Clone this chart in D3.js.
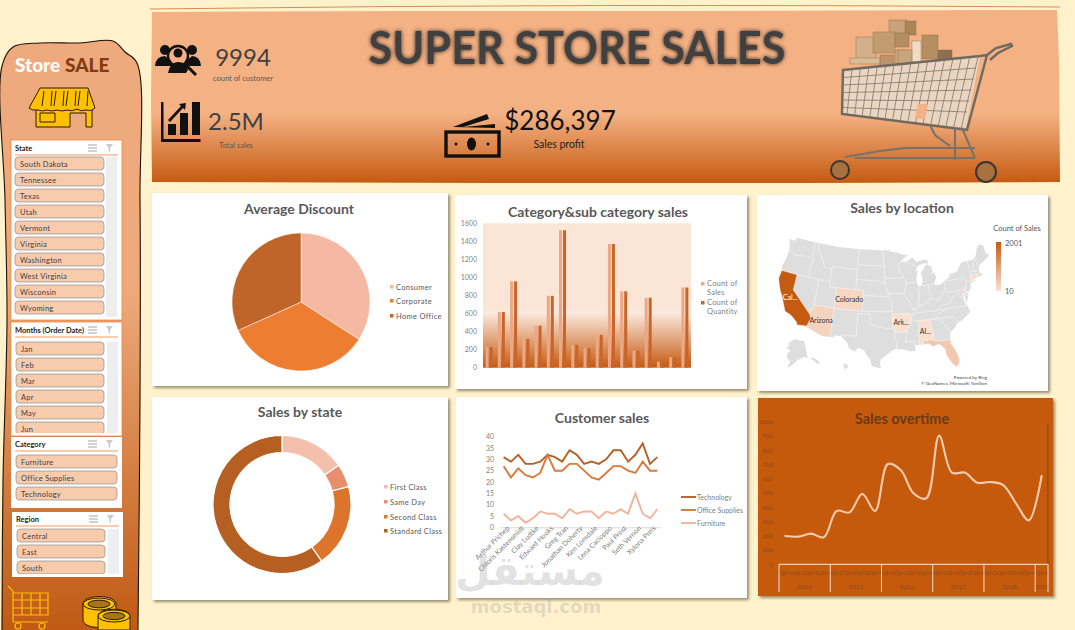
<!DOCTYPE html>
<html>
<head>
<meta charset="utf-8">
<title>Super Store Sales</title>
<script src="https://cdn.jsdelivr.net/npm/d3@7"></script>
<style>
  html, body { margin: 0; padding: 0; background: #fff2cc; overflow: hidden; }
  svg { display: block; }
  text { font-family: Lato, "Open Sans", sans-serif; }
</style>
</head>
<body>
<svg id="chart" width="1075" height="630"></svg>
<script>
// ---- data ----
var states = ["South Dakota", "Tennessee", "Texas", "Utah", "Vermont", "Virginia", "Washington", "West Virginia", "Wisconsin", "Wyoming"];
var months = ["Jan", "Feb", "Mar", "Apr", "May", "Jun"];
var categories = ["Furniture", "Office Supplies", "Technology"];
var regions = ["Central", "East", "South"];

var segments = ["Consumer", "Corporate", "Home Office"];
var avgDiscount = [0.158, 0.158, 0.147];

var subCategories = ["Bookcases", "Chairs", "Furnishings", "Tables", "Appliances", "Art", "Binders", "Envelopes", "Fasteners", "Labels", "Paper", "Storage", "Supplies", "Accessories", "Copiers", "Machines", "Phones"];
var countOfSales = [228, 617, 957, 319, 466, 796, 1523, 254, 217, 364, 1370, 846, 190, 775, 68, 115, 889];
var countOfQuantity = [228, 617, 957, 319, 466, 796, 1523, 254, 217, 364, 1370, 846, 190, 775, 68, 115, 889];
var barSeries = ["Count of Sales", "Count of Quantity"];

var shipModes = ["First Class", "Same Day", "Second Class", "Standard Class"];
var shipCounts = [1538, 543, 1945, 5968];

var customers = ["Arthur Prichep", "a2", "Chloris Kastensmidt", "a4", "Clay Ludtke", "a6", "Edward Hooks", "a8", "Greg Tran", "a10", "Jonathan Doherty", "a12", "Ken Lonsdale", "a14", "Lena Cacioppo", "a16", "Paul Prost", "a18", "Seth Vernon", "a20", "Xylona Preis", "a22"];
var techSales = [31, 29, 32, 28, 28, 29, 32, 31, 29, 34, 32, 28, 29, 28, 30, 34, 34, 29, 32, 37, 28, 31];
var officeSales = [27, 22, 26, 23, 22, 24, 32, 25, 25, 28, 28, 25, 22, 21, 24, 27, 27, 25, 24, 29, 25, 25];
var furnitureSales = [6, 3, 5, 2, 4, 7, 6, 6, 4, 8, 6, 7, 7, 4, 7, 6, 8, 6, 15, 6, 4, 8];

var quarters = ["Qtr1", "Qtr2", "Qtr3", "Qtr4"];
var years = ["2014", "2015", "2016", "2017", "2018", "2019"];
var quarterSales = [199, 194, 215, 190, 374, 364, 493, 374, 703, 661, 498, 463, 902, 643, 643, 572, 577, 556, 428, 308, 619];

// states that have a value on the map: [lon, lat] rings
var stateNames = ["California", "Arizona", "Colorado", "Arkansas", "Alabama", "Florida", "Connecticut", "Delaware"];
var stateSales = [2001, 224, 182, 60, 61, 383, 82, 96];
var stateRings = [
  [[-124.2,42],[-120,42],[-120,39],[-114.6,35],[-114.15,34.3],[-114.5,33.5],[-114.72,32.72],[-117.12,32.53],[-117.3,33],[-118.4,33.75],[-119.2,34.15],[-120.6,34.55],[-121.9,36.6],[-122.5,37.5],[-123,38],[-123.8,39.3],[-124.4,40.4],[-124.2,42]],
  [[-114.04,37],[-109.05,37],[-109.05,31.33],[-111.07,31.33],[-114.8,32.5],[-114.72,32.72],[-114.5,33.5],[-114.15,34.3],[-114.6,35],[-114.7,36],[-114.04,36.2],[-114.04,37]],
  [[-109.05,41],[-105.5,41],[-102.05,41],[-102.05,37],[-105.5,37],[-109.05,37],[-109.05,41]],
  [[-94.62,36.5],[-90.15,36.5],[-90.37,36],[-89.7,36],[-90.1,35],[-91.15,33],[-94.05,33],[-94.05,33.55],[-94.48,33.65],[-94.45,35.4],[-94.62,36.5]],
  [[-88.2,35],[-85.6,35],[-85,32.3],[-85,31],[-87.6,31],[-87.5,30.28],[-88.1,30.3],[-88.4,30.3],[-88.2,35]],
  [[-87.6,31],[-85,31],[-84.9,30.7],[-82.2,30.55],[-81.4,30.7],[-81.3,29.8],[-80.55,28.4],[-80.05,26.8],[-80.2,25.7],[-80.9,25.15],[-81.8,26.1],[-82.7,27.8],[-82.7,28.8],[-83.7,29.9],[-84.2,30.05],[-85.3,29.7],[-86.4,30.4],[-87.5,30.28],[-87.6,31]],
  [[-73.5,42.05],[-71.8,42.02],[-71.85,41.32],[-72.9,41.25],[-73.7,41],[-73.5,42.05]],
  [[-75.8,39.72],[-75.5,39.8],[-75.05,38.45],[-75.7,38.45],[-75.8,39.72]]
];
var mapLabels = ["Cal...", "Arizona", "Colorado", "Ark...", "Al..."];

var usOutline = [[-124.7,48.4],[-123,48.3],[-122.8,49],[-116,49],[-110,49],[-104,49],[-98,49],[-95.15,49],[-95.15,49.38],[-94.6,48.7],[-93,48.6],[-91.4,48.1],[-89.6,48],[-92.1,46.75],[-90.5,46.6],[-88.4,47.4],[-87.5,46.5],[-85,46.75],[-84.4,46.5],[-84,46],[-84.7,45.95],[-85.5,46],[-87,45.7],[-87.6,45.1],[-88,44.55],[-87.3,44.9],[-87.5,44.3],[-87.9,43],[-87.8,42.3],[-87.5,41.7],[-86.9,41.7],[-86.3,42.4],[-86.3,43.2],[-86.5,44],[-86.2,44.7],[-85.6,45],[-85,45.7],[-84.7,45.78],[-83.4,45.2],[-83.3,44.3],[-83.9,43.7],[-83,44.05],[-82.45,43],[-82.9,42.4],[-83.15,42],[-83.45,41.72],[-82.7,41.5],[-81.7,41.5],[-80.5,42],[-79,42.7],[-78.9,43],[-79.05,43.27],[-77.5,43.27],[-76.5,43.5],[-76.2,44],[-75,44.95],[-74.7,45],[-71.5,45],[-71.3,45.3],[-70.8,45.4],[-70.3,46.2],[-70,46.7],[-69.2,47.45],[-68.3,47.35],[-67.8,47.05],[-67.8,45.7],[-67,44.85],[-68.5,44.3],[-70,43.8],[-70.7,43.05],[-70.8,42.6],[-71,42.3],[-70.6,41.95],[-70,41.8],[-70.6,41.55],[-71.4,41.45],[-72.9,41.25],[-73.7,40.95],[-72,41.05],[-73.9,40.55],[-74,40.45],[-74.1,39.7],[-74.9,38.95],[-75.5,39.5],[-75.05,38.45],[-75.9,37.15],[-76.1,38.9],[-76.4,39.2],[-76.4,38],[-76.3,36.95],[-75.9,36.6],[-75.5,35.25],[-76.5,34.65],[-77.9,33.9],[-78.9,33.65],[-79.9,32.7],[-81,32],[-81.4,30.7],[-81.3,29.8],[-80.55,28.4],[-80.05,26.8],[-80.2,25.7],[-80.9,25.15],[-81.8,26.1],[-82.7,27.8],[-82.7,28.8],[-83.7,29.9],[-84.2,30.05],[-85.3,29.7],[-86.4,30.4],[-87.5,30.28],[-88.1,30.3],[-89.5,30.3],[-89.4,29.2],[-90.5,29.1],[-91.8,29.5],[-93.8,29.7],[-94.7,29.4],[-95.9,28.6],[-97.2,27.7],[-97.4,26.9],[-97.15,25.95],[-98.2,26.05],[-99.2,26.4],[-99.5,27.5],[-100.3,28.3],[-101,29.4],[-102.4,29.8],[-103.1,28.98],[-104.5,29.6],[-105,30.65],[-106.5,31.75],[-108.2,31.78],[-108.2,31.33],[-111.07,31.33],[-114.8,32.5],[-117.12,32.53],[-117.3,33],[-118.4,33.75],[-119.2,34.15],[-120.6,34.55],[-121.9,36.6],[-122.5,37.5],[-123,38],[-123.8,39.3],[-124.4,40.4],[-124.2,41.99],[-124.5,42.8],[-124,44.6],[-123.95,46.2],[-124.1,46.9],[-124.7,48.4]];
var alaska = [[-168,65.6],[-164,67],[-166,68.5],[-160,70.5],[-156.5,71.3],[-150,70.5],[-141,69.6],[-141,60.3],[-137,58.9],[-133,55.5],[-130,55],[-131,57],[-135,59.3],[-139,59.8],[-146,60.8],[-149,60],[-151.5,59.3],[-151,61],[-154,58.5],[-158,56.5],[-163,54.8],[-160.5,58.6],[-165,60.5],[-165,63],[-161,64.5],[-168,65.6]];
var hawaii = [[-156,20.2],[-155.1,19.9],[-155,19.5],[-155.7,18.95],[-155.95,19.6],[-156,20.2]];
var stateBorders = [
  [[-124,46.25],[-123,46.15],[-122,45.6],[-119,45.9],[-116.9,46]], [[-117.04,49],[-117.04,46.4]], [[-116.9,46],[-116.5,45.5],[-117,44.2],[-117.03,42]],
  [[-124.2,42],[-120,42],[-114.04,42],[-111.05,42]], [[-120,42],[-120,39],[-114.6,35]], [[-114.04,42],[-114.04,37],[-114.04,36.2],[-114.7,36],[-114.6,35]],
  [[-114.04,37],[-109.05,37],[-105,37],[-102.04,37],[-98,37],[-94.62,37]], [[-109.05,41],[-109.05,37],[-109.05,31.33]],
  [[-116.05,49],[-116.05,48],[-114.5,46.6],[-113.9,45.6],[-113,44.5],[-111.05,44.5]], [[-111.05,45],[-111.05,41],[-109.05,41],[-105,41],[-102.05,41]],
  [[-111.05,45],[-107,45],[-104.05,45]], [[-104.05,49],[-104.05,41]], [[-104.05,45.94],[-100,45.94],[-96.56,45.94]], [[-104.05,43],[-98.5,43],[-96.5,42.5]],
  [[-102.05,40],[-98,40],[-95.3,40]], [[-102.05,41],[-102.05,37]], [[-103.04,37],[-103.04,32],[-106.6,32],[-106.5,31.75]], [[-103,36.5],[-100,36.5],[-100,34.56],[-97,33.85],[-94.5,33.65]],
  [[-94.05,33.55],[-94.05,31.9],[-93.5,31],[-93.8,29.7]], [[-94.05,33.02],[-91.15,33]], [[-94.62,36.5],[-94.45,35.4],[-94.48,33.65],[-94.05,33.55]], [[-94.62,36.5],[-90.15,36.5],[-90.37,36],[-89.7,36]],
  [[-94.62,37],[-94.62,39.1],[-95.3,40],[-96.5,42.5]], [[-95.8,40.58],[-91.45,40.4]], [[-96.45,43.5],[-91.22,43.5]], [[-96.56,45.94],[-96.45,43.5],[-96.5,42.5]], [[-96.56,45.94],[-97.2,49]],
  [[-92.1,46.7],[-92.8,45.5],[-91.22,43.5],[-90.65,42.5],[-91.45,40.4],[-90.2,38.8],[-89.15,37]], [[-90.65,42.5],[-87.8,42.5]], [[-87.53,41.7],[-87.53,39.3],[-88.05,37.8]], [[-84.8,41.7],[-84.8,39.1]],
  [[-87,41.76],[-84.8,41.7],[-83.45,41.72]], [[-89.15,37],[-88.05,37.8],[-86.5,38],[-84.8,39.1],[-83,38.7],[-82.6,38.4],[-80.6,40.6],[-80.52,42]],
  [[-89.5,36.5],[-83.7,36.6],[-81.7,36.6],[-75.9,36.55]], [[-89.5,36.5],[-90.1,35],[-91.15,33],[-91.6,31],[-89.7,31],[-89.6,30.2]], [[-90.1,35],[-85.6,35],[-84.3,35],[-83.1,35]],
  [[-88.2,35],[-88.4,30.3]], [[-85.6,35],[-85,32.3],[-85,31],[-84.9,30.7]], [[-87.6,31],[-85,31]], [[-84.9,30.7],[-82.2,30.55],[-81.4,30.7]], [[-87.6,31],[-87.5,30.3]],
  [[-83.1,35],[-81,32]], [[-83.1,35],[-81,35.1],[-79.7,34.8],[-78.6,33.85]], [[-84.3,35],[-81.7,36.6]], [[-83.7,36.6],[-82,37.5],[-80.3,37.5],[-78.4,39.2],[-77.7,39.3],[-76.9,38.3],[-76.3,38]],
  [[-80.52,39.72],[-75.8,39.72]], [[-80.52,40.6],[-80.52,39.72]], [[-79.76,42.25],[-79.76,42],[-75.35,42],[-74.7,41.35],[-75.1,40.9],[-75.5,39.8]], [[-74.7,41.35],[-73.9,41]],
  [[-75.8,39.72],[-75.7,38.45]], [[-73.35,45],[-73.25,42.75],[-73.5,41.3],[-73.7,41]], [[-73.25,42.75],[-71.3,42.7],[-70.8,42.85]], [[-73.5,42.05],[-71.4,42.02],[-71.8,41.4]],
  [[-71.5,45],[-72.4,43],[-72.45,42.73]], [[-71.05,45.3],[-70.75,43.1]], [[-90.4,46.55],[-88.1,45.9],[-87.6,45.1]]
];

// ---- page set up ----
var svg = d3.select("#chart");
var defs = svg.append("defs");
var cream = "#fff2cc", peach = "#f4b183", rust = "#c55a11", grey = "#595959", soft = "#7f7f7f";

function vGradient(id, stops) {
  var g = defs.append("linearGradient").attr("id", id).attr("x1", 0).attr("x2", 0).attr("y1", 0).attr("y2", 1);
  stops.forEach(function(s) { g.append("stop").attr("offset", s[0]).attr("stop-color", s[1]); });
}
vGradient("headGrad", [[0, peach], [0.6, peach], [1, rust]]);
vGradient("sideGrad", [[0, "#eeaa7c"], [0.42, "#eeaa7c"], [1, "#c05a14"]]);
vGradient("barGrad", [[0, "#fbe5d6"], [0.58, "#fbe5d6"], [0.62, "#fbe9dd"], [1, rust]]);
vGradient("legGrad", [[0, rust], [1, "#fbe3d3"]]);

var shadow = defs.append("filter").attr("id", "cardShadow").attr("x", "-5%").attr("y", "-5%").attr("width", "112%").attr("height", "112%");
shadow.append("feDropShadow").attr("dx", 2).attr("dy", 2).attr("stdDeviation", 1.4).attr("flood-color", "#6f6b50").attr("flood-opacity", 0.75);
var blur = defs.append("filter").attr("id", "titleShadow").attr("x", "-5%").attr("y", "-20%").attr("width", "110%").attr("height", "140%");
blur.append("feDropShadow").attr("dx", 0).attr("dy", 0).attr("stdDeviation", 2.2).attr("flood-color", "#000").attr("flood-opacity", 0.8);

function label(g, x, y, txt, size, color, anchor, weight) {
  return g.append("text").attr("x", x).attr("y", y).text(txt)
    .attr("font-size", size).attr("fill", color)
    .attr("text-anchor", anchor || "start").attr("font-weight", weight || "normal");
}
function card(x0, y0, x1, y1, fill) {
  svg.append("rect").attr("x", x0).attr("y", y0).attr("width", x1 - x0).attr("height", y1 - y0)
    .attr("fill", fill || "#fff").attr("filter", "url(#cardShadow)");
}

// ---- sidebar ----
var blob = d3.line().x(function(d) { return d[0]; }).y(function(d) { return d[1]; }).curve(d3.curveCatmullRom);
var sidePath = [[2, 630], [3, 480], [7, 320], [5, 200], [2, 66], [13, 47], [40, 43], [80, 43], [113, 41], [125, 52], [137, 63], [140, 200], [140, 400], [138, 630]];
svg.append("path").attr("d", blob(sidePath)).attr("fill", "url(#sideGrad)").attr("stroke", "#1a1208").attr("stroke-width", 1.1);

var brand = label(svg, 15, 72, "Store", 19, "#fff", "start", 900);
brand.append("tspan").attr("dx", 5).attr("fill", "#843c0c").text("SALE");

// shop icon
var shop = svg.append("g").attr("stroke", "#2b1d05").attr("stroke-width", 1).attr("fill", "#ffc000").attr("stroke-linejoin", "round");
shop.append("path").attr("d", "M36 109 H92 V127 H86 V113 H70 V127 H36 Z");
shop.append("path").attr("d", "M40 88 H88 L95 108 Q91 112 86 110 Q81 112 77 109 Q72 112 67 110 Q62 112 57 110 Q52 112 47 110 Q42 112 38 110 Q32 111 29 108 Z");
[43, 55, 67, 79].forEach(function(x) {
  shop.append("path").attr("fill", "#fff").attr("fill-opacity", 0).attr("d", "M" + (x + 1) + " 91 L" + (x - 1) + " 106 M" + (x + 9) + " 91 L" + (x + 8) + " 106");
});
shop.append("rect").attr("x", 40).attr("y", 113).attr("width", 15).attr("height", 9);

function slicer(o) {
  var g = svg.append("g");
  g.append("rect").attr("x", o.x0).attr("y", o.y0).attr("width", o.x1 - o.x0).attr("height", o.y1 - o.y0)
    .attr("fill", "#fff").attr("stroke", o.border ? "#ed7d31" : "none").attr("stroke-width", 0.7);
  label(g, o.x0 + 4, o.head, o.title, 7.5, "#222", "start", "bold");
  g.append("line").attr("x1", o.x0 + 4).attr("x2", o.x1 - 4).attr("y1", o.head + 4).attr("y2", o.head + 4).attr("stroke", "#ed7d31").attr("stroke-width", 0.8);
  // little select / clear icons
  [0, 3, 6].forEach(function(dy) {
    g.append("line").attr("x1", o.x1 - 34).attr("x2", o.x1 - 25).attr("y1", o.head - 6 + dy).attr("y2", o.head - 6 + dy).attr("stroke", "#9a9a9a").attr("stroke-width", 0.9);
  });
  g.append("path").attr("d", "M" + (o.x1 - 16) + " " + (o.head - 7) + " h7 l-3 4 v4 l-1.5 -1 v-3 Z").attr("fill", "#c9c9c9");
  if (o.track) {
    g.append("rect").attr("x", o.trackX).attr("y", o.top).attr("width", 11).attr("height", o.y1 - o.top - 3).attr("fill", "#eeeef0");
  }
  var id = "clip" + o.title.charAt(0);
  defs.append("clipPath").attr("id", id).append("rect").attr("x", o.x0).attr("y", o.top - 1).attr("width", o.x1 - o.x0).attr("height", o.clipTo - o.top + 1);
  var items = g.append("g").attr("clip-path", "url(#" + id + ")").selectAll("g").data(o.items).enter().append("g");
  items.append("rect").attr("x", o.bx).attr("width", o.bw).attr("height", 13).attr("rx", 3.5)
    .attr("y", function(d, i) { return o.top + i * 16; })
    .attr("fill", "#f8cbad").attr("stroke", "#8e8e8e").attr("stroke-width", 0.7);
  items.append("text").attr("x", o.bx + 5).attr("y", function(d, i) { return o.top + i * 16 + 9.5; })
    .attr("font-size", 7.5).attr("fill", "#404040").attr("letter-spacing", 0.25).text(function(d) { return d; });
}
slicer({ title: "State", items: states, x0: 11, x1: 122, y0: 140, y1: 320, head: 151, top: 157, clipTo: 318, bx: 15, bw: 89, track: true, trackX: 106, border: true });
slicer({ title: "Months (Order Date)", items: months, x0: 11, x1: 122, y0: 322, y1: 436, head: 333, top: 342, clipTo: 433, bx: 16, bw: 88, track: true, trackX: 107, border: true });
slicer({ title: "Category", items: categories, x0: 11, x1: 122, y0: 437, y1: 508, head: 447, top: 455, clipTo: 506, bx: 16, bw: 101, track: false });
slicer({ title: "Region", items: regions, x0: 12, x1: 123, y0: 512, y1: 577, head: 522, top: 529, clipTo: 574, bx: 17, bw: 88, track: true, trackX: 108 });

// cart and coins at the foot of the sidebar
var footCart = svg.append("g").attr("fill", "none").attr("stroke", "#ffc000").attr("stroke-width", 1.2);
footCart.append("path").attr("d", "M8 586 L13 591 L13 622 H48 M13 593 H48 V615 H13 M13 600 H48 M13 608 H48 M22 593 V615 M31 593 V615 M40 593 V615");
footCart.append("circle").attr("cx", 18).attr("cy", 626).attr("r", 3);
footCart.append("circle").attr("cx", 42).attr("cy", 626).attr("r", 3);
var coins = svg.append("g").attr("fill", "#ffc000").attr("stroke", "#2b1d05").attr("stroke-width", 1);
coins.append("path").attr("d", "M83 604 C83 594 116 594 116 604 V620 C116 630 83 630 83 620 Z");
coins.append("ellipse").attr("cx", 99).attr("cy", 604).attr("rx", 16).attr("ry", 6);
coins.append("ellipse").attr("cx", 99).attr("cy", 604).attr("rx", 11).attr("ry", 3.8).attr("fill", "#a8741a");
coins.append("path").attr("d", "M98 616 C98 607 130 607 130 616 V630 H98 Z");
coins.append("ellipse").attr("cx", 114).attr("cy", 616).attr("rx", 16).attr("ry", 6);
coins.append("ellipse").attr("cx", 114).attr("cy", 616).attr("rx", 11).attr("ry", 3.6).attr("fill", "#a8741a");

// ---- header band ----
svg.append("path").attr("d", "M150 9 Q600 3 1060 7").attr("fill", "none").attr("stroke", "#d98c4d").attr("stroke-width", 1);
var headPath = [[152, 12], [400, 11], [700, 11], [1057, 10], [1059, 60], [1060, 182], [800, 183], [500, 183], [152, 182], [151, 100], [152, 12]];
svg.append("path").attr("d", d3.line().x(function(d) { return d[0]; }).y(function(d) { return d[1]; })(headPath)).attr("fill", "url(#headGrad)");

label(svg, 577, 64, "SUPER STORE SALES", 46, "#404040", "middle", "bold")
  .attr("textLength", 417).attr("lengthAdjust", "spacingAndGlyphs").attr("filter", "url(#titleShadow)");
label(svg, 243, 66, "9994", 24, "#404040", "middle");
label(svg, 243, 81, "count of customer", 7.5, "#595959", "middle");
label(svg, 236, 130, "2.5M", 24, "#404040", "middle");
label(svg, 236, 148, "Total sales", 7.5, "#595959", "middle");
label(svg, 560, 130, "$286,397", 26, "#111", "middle");
label(svg, 559, 148, "Sales profit", 10.5, "#222", "middle");

// people icon
var people = svg.append("g").attr("fill", "#111");
people.append("circle").attr("cx", 165).attr("cy", 50).attr("r", 5);
people.append("circle").attr("cx", 192).attr("cy", 50).attr("r", 5);
people.append("path").attr("d", "M155 66 Q156 56 165 56 L172 62 V66 Z M201 66 Q200 56 192 56 L185 62 V66 Z");
people.append("circle").attr("cx", 178).attr("cy", 56).attr("r", 10).attr("fill", "none").attr("stroke", "#111").attr("stroke-width", 2.4);
people.append("circle").attr("cx", 178).attr("cy", 53).attr("r", 4.5);
people.append("path").attr("d", "M168 73 Q170 62 178 62 Q186 62 188 70 L186 73 Z");
people.append("line").attr("x1", 186).attr("y1", 65).attr("x2", 196).attr("y2", 75).attr("stroke", "#111").attr("stroke-width", 3);

// growth icon
var growth = svg.append("g").attr("fill", "#111");
growth.append("path").attr("d", "M161 102 H163.5 V139 H200.5 V142 H161 Z");
growth.append("rect").attr("x", 168).attr("y", 124).attr("width", 8).attr("height", 11);
growth.append("rect").attr("x", 180).attr("y", 113).attr("width", 8).attr("height", 22);
growth.append("rect").attr("x", 192).attr("y", 102).attr("width", 8).attr("height", 33);
growth.append("path").attr("d", "M168 120 L181 106 L179 104 L186 103 L185 110 L183 108 L170 122 Z");

// money icon
var money = svg.append("g").attr("fill", "#111");
money.append("path").attr("d", "M453 127 L487 114 L489 119 L463 127 L495 124 L495 128 Z");
money.append("rect").attr("x", 446).attr("y", 132).attr("width", 53).attr("height", 24).attr("fill", "none").attr("stroke", "#111").attr("stroke-width", 3.4);
money.append("ellipse").attr("cx", 471.5).attr("cy", 144).attr("rx", 4.5).attr("ry", 6.5);
money.append("circle").attr("cx", 456).attr("cy", 144).attr("r", 1.5);
money.append("circle").attr("cx", 488).attr("cy", 144).attr("r", 1.5);

// shopping cart picture
var cart = svg.append("g");
var boxes = [[889, 20, 18, 16, "#c7a27a"], [905, 21, 11, 14, "#a98458"], [856, 37, 20, 22, "#d3b08b"], [873, 32, 22, 21, "#c39b70"], [895, 33, 14, 14, "#b38d63"], [922, 35, 16, 24, "#b78e62"], [912, 41, 9, 21, "#f0dcc4"], [938, 50, 14, 10, "#8f6f50"], [895, 50, 13, 13, "#caa882"], [850, 58, 30, 6, "#d9bb97"], [880, 55, 14, 13, "#bb9369"], [898, 50, 14, 15, "#c9a57e"]];
cart.selectAll("rect").data(boxes).enter().append("rect")
  .attr("x", function(d) { return d[0]; }).attr("y", function(d) { return d[1]; })
  .attr("width", function(d) { return d[2]; }).attr("height", function(d) { return d[3]; })
  .attr("fill", function(d) { return d[4]; }).attr("stroke", "#8a6a48").attr("stroke-width", 0.4);
cart.append("path").attr("d", "M843 70 L980 56 L966 128 L842 113 Z").attr("fill", "#e9dccd").attr("fill-opacity", 0.85);
cart.append("path").attr("d", "M843 70 L980 56 L987 55 L967 130 L842 114 Z M987 55 L996 48 L1011 44 L1012 46 L998 53 L990 60")
  .attr("fill", "none").attr("stroke", "#6f6a60").attr("stroke-width", 2.4);
var basketWires = cart.append("g").attr("stroke", "#7b766c").attr("stroke-width", 0.8);
d3.range(0, 16).forEach(function(i) {
  basketWires.append("line").attr("x1", 852 + i * 8.4).attr("y1", 69 - i * 0.8).attr("x2", 847 + i * 7.6).attr("y2", 114 + i * 1.0);
});
d3.range(1, 6).forEach(function(i) {
  basketWires.append("line").attr("x1", 843).attr("y1", 70 + i * 7.5).attr("x2", 978 - i * 2.2).attr("y2", 57 + i * 11);
});
cart.append("rect").attr("x", 918).attr("y", 104).attr("width", 10).attr("height", 15).attr("fill", peach).attr("transform", "skewX(-12) translate(22,0)");
cart.append("path").attr("d", "M930 125 L935 135 L950 146 M955 128 V160 M962 128 L975 158 M845 157 L880 151 L905 148 H975 M855 158 H975")
  .attr("fill", "none").attr("stroke", "#77726a").attr("stroke-width", 2);
[[840, 170, 9], [986, 172, 10]].forEach(function(w) {
  cart.append("circle").attr("cx", w[0]).attr("cy", w[1]).attr("r", w[2]).attr("fill", "#a8713f").attr("stroke", "#3a3530").attr("stroke-width", 2);
});

// ---- cards ----
card(152, 193, 448, 386);
card(455, 195, 747, 389);
card(757, 195, 1048, 391);
card(152, 397, 448, 600);
card(456, 397, 747, 598);
card(758, 398, 1053, 596, rust);

function swatchLegend(g, names, colors, x, ys, size) {
  names.forEach(function(n, i) {
    g.append("rect").attr("x", x).attr("y", ys[i] - 3).attr("width", 3.5).attr("height", 3.5).attr("fill", colors[i]);
    label(g, x + 6, ys[i] + 1.5, n, size, grey).attr("letter-spacing", 0.3);
  });
}

// average discount pie
var pieColors = ["#f5b9a3", "#ed7d31", "#c0652a"];
label(svg, 299, 214, "Average Discount", 14, grey, "middle", "bold");
var pieG = svg.append("g").attr("transform", "translate(301,302)");
var pieArc = d3.arc().innerRadius(0).outerRadius(69);
pieG.selectAll("path").data(d3.pie().sort(null)(avgDiscount)).enter().append("path")
  .attr("d", pieArc).attr("fill", function(d, i) { return pieColors[i]; })
  .attr("stroke", "#fff").attr("stroke-width", 0.5);
swatchLegend(svg, segments, pieColors, 390, [288, 302, 317], 7.5);

// category bars
label(svg, 598, 217, "Category&sub category sales", 14, grey, "middle", "bold");
var barX = d3.scaleBand().domain(subCategories).range([483, 691]);
var barY = d3.scaleLinear().domain([0, 1600]).range([367.7, 223.3]);
svg.append("rect").attr("x", 483).attr("y", 223.3).attr("width", 208).attr("height", 144.4).attr("fill", "url(#barGrad)");
var barG = svg.append("g");
var barW = 3;
barG.selectAll(".sales").data(countOfSales).enter().append("rect")
  .attr("x", function(d, i) { return barX(subCategories[i]) + barX.bandwidth() / 2 - barW - 0.5; })
  .attr("y", function(d) { return barY(d); }).attr("width", barW)
  .attr("height", function(d) { return barY(0) - barY(d); }).attr("fill", "#eca784");
barG.selectAll(".qty").data(countOfQuantity).enter().append("rect")
  .attr("x", function(d, i) { return barX(subCategories[i]) + barX.bandwidth() / 2 + 0.5; })
  .attr("y", function(d) { return barY(d); }).attr("width", barW)
  .attr("height", function(d) { return barY(0) - barY(d); }).attr("fill", "#c9642a");
var barAxis = svg.append("g").attr("transform", "translate(483,0)")
  .call(d3.axisLeft(barY).tickValues(d3.range(0, 1601, 200)).tickFormat(d3.format("d")).tickSize(0).tickPadding(6));
barAxis.select(".domain").remove();
barAxis.selectAll("text").attr("font-size", 7).attr("fill", soft).attr("font-family", "Lato");
var barColors = ["#eca784", "#c9642a"];
[["Count of", "Sales"], ["Count of", "Quantity"]].forEach(function(lines, i) {
  var y = [284, 303][i];
  svg.append("rect").attr("x", 701).attr("y", y - 2).attr("width", 3.5).attr("height", 3.5).attr("fill", barColors[i]);
  label(svg, 707, y + 2, lines[0], 7.5, soft).attr("letter-spacing", 0.2);
  label(svg, 707, y + 11, lines[1], 7.5, soft).attr("letter-spacing", 0.2);
});

// sales by location map
label(svg, 902, 213, "Sales by location", 14, grey, "middle", "bold");
var projection = d3.geoAlbersUsa().scale(292).translate([884, 303]);
var geoPath = d3.geoPath(projection);
var mapG = svg.append("g");
function ringFeature(ring) { return { type: "Polygon", coordinates: [ring] }; }
[usOutline, alaska, hawaii].forEach(function(r) {
  mapG.append("path").attr("d", geoPath(ringFeature(r))).attr("fill", "#dedede");
});
mapG.append("path").attr("d", geoPath({ type: "MultiLineString", coordinates: stateBorders }))
  .attr("fill", "none").attr("stroke", "#f5f5f5").attr("stroke-width", 0.7);
var mapColor = d3.scaleLinear().domain([10, 2001]).range(["#fbe3d3", rust]);
mapG.selectAll(".state").data(stateRings).enter().append("path")
  .attr("d", function(d) { return geoPath(ringFeature(d)); })
  .attr("fill", function(d, i) { return mapColor(stateSales[i]); })
  .attr("stroke", "#f5f5f5").attr("stroke-width", 0.4);
var labelSpots = [[-120.2, 37.3], [-111.7, 34.3], [-105.5, 39], [-92.4, 34.8], [-86.8, 32.8]];
mapLabels.forEach(function(n, i) {
  var p = projection(labelSpots[i]);
  label(svg, p[0], p[1] + 2.5, n, 7, i === 0 ? "#fff" : "#333", "middle");
});
label(svg, 1017, 231, "Count of Sales", 7.5, grey, "middle");
svg.append("rect").attr("x", 996).attr("y", 242).attr("width", 5).attr("height", 49).attr("fill", "url(#legGrad)");
label(svg, 1005, 246, d3.max(stateSales), 7.5, grey);
label(svg, 1005, 294, "10", 7.5, grey);
label(svg, 987, 379, "Powered by Bing", 4.5, "#444", "end");
label(svg, 987, 385, "\u00a9 GeoNames, Microsoft, TomTom", 4.5, "#444", "end");

// shipping donut
label(svg, 300, 417, "Sales by state", 14, grey, "middle", "bold");
var donutColors = ["#f4c0ad", "#e98e6c", "#dd742c", "#b65f22"];
var donutG = svg.append("g").attr("transform", "translate(282,504.5)");
var donutArc = d3.arc().innerRadius(52).outerRadius(69);
donutG.selectAll("path").data(d3.pie().sort(null)(shipCounts)).enter().append("path")
  .attr("d", donutArc).attr("fill", function(d, i) { return donutColors[i]; })
  .attr("stroke", "#fff").attr("stroke-width", 1.2);
swatchLegend(svg, shipModes, donutColors, 384, [488, 503, 518, 532], 7.5);

// customer lines
label(svg, 602, 423, "Customer sales", 14, grey, "middle", "bold");
var lineX = d3.scaleBand().domain(customers).range([500, 661]);
var lineY = d3.scaleLinear().domain([0, 40]).range([527.3, 436.7]);
var lineAxisX = svg.append("g").attr("transform", "translate(0,527.3)")
  .call(d3.axisBottom(lineX).tickValues(customers.filter(function(d, i) { return i % 2 === 0; })).tickSize(0).tickPadding(4));
lineAxisX.select(".domain").attr("stroke", "#d9d9d9");
lineAxisX.selectAll("text").attr("font-size", 7).attr("fill", soft).attr("font-family", "Lato")
  .attr("text-anchor", "end").attr("dx", "0.5em").attr("dy", "0.2em").attr("transform", "rotate(-45)");
var lineAxisY = svg.append("g").attr("transform", "translate(500,0)")
  .call(d3.axisLeft(lineY).tickValues(d3.range(0, 41, 5)).tickSize(0).tickPadding(6));
lineAxisY.select(".domain").remove();
lineAxisY.selectAll("text").attr("font-size", 7).attr("fill", soft).attr("font-family", "Lato");
var lineFn = d3.line().x(function(d, i) { return lineX(customers[i]) + lineX.bandwidth() / 2; }).y(function(d) { return lineY(d); });
var lineSeries = ["Technology", "Office Supplies", "Furniture"];
var lineColors = ["#b5622a", "#d9793a", "#f0b49a"];
[techSales, officeSales, furnitureSales].forEach(function(vals, i) {
  svg.append("path").attr("d", lineFn(vals)).attr("fill", "none").attr("stroke", lineColors[i]).attr("stroke-width", 1.9);
});
lineSeries.forEach(function(n, i) {
  var y = [497, 510, 523][i];
  svg.append("line").attr("x1", 681).attr("x2", 696).attr("y1", y).attr("y2", y).attr("stroke", lineColors[i]).attr("stroke-width", 1.9);
  label(svg, 697, y + 2.5, n, 7, soft);
});

// sales over time
svg.append("rect").attr("x", 1047).attr("y", 424).attr("width", 1.6).attr("height", 140).attr("fill", "#a04c10");
label(svg, 902, 424, "Sales overtime", 14.5, "#6b3a16", "middle", "bold");
var periods = [];
years.forEach(function(y) {
  quarters.forEach(function(q) { if (periods.length < quarterSales.length) periods.push(y + " " + q); });
});
var timeX = d3.scaleBand().domain(periods).range([779, 1048]);
var timeY = d3.scaleLinear().domain([0, 1000]).range([564.3, 421.7]);
var timeAxis = svg.append("g").attr("transform", "translate(779,0)")
  .call(d3.axisLeft(timeY).tickValues(d3.range(0, 1001, 100)).tickFormat(d3.format("d")).tickSize(0).tickPadding(6));
timeAxis.select(".domain").remove();
timeAxis.selectAll("text").attr("font-size", 6).attr("fill", "#8b4a1c").attr("font-family", "Lato");
svg.append("line").attr("x1", 779).attr("x2", 1048).attr("y1", 564.3).attr("y2", 564.3).attr("stroke", "#fff").attr("stroke-width", 0.9);
periods.forEach(function(p) {
  label(svg, timeX(p) + timeX.bandwidth() / 2, 574.5, p.split(" ")[1], 6.2, "#8b4a1c", "middle");
});
var yearStarts = years.map(function(y) { return periods.filter(function(p) { return p.indexOf(y) === 0; }); });
yearStarts.forEach(function(ps, i) {
  var x0 = timeX(ps[0]), x1 = timeX(ps[ps.length - 1]) + timeX.bandwidth();
  label(svg, (x0 + x1) / 2, 589, years[i], 6.5, "#8b4a1c", "middle");
  svg.append("line").attr("x1", x0).attr("x2", x0).attr("y1", 564.3).attr("y2", 592).attr("stroke", "#fff").attr("stroke-width", 0.8);
  if (i === years.length - 1) svg.append("line").attr("x1", x1).attr("x2", x1).attr("y1", 564.3).attr("y2", 592).attr("stroke", "#fff").attr("stroke-width", 0.8);
});
var timeLine = d3.line().curve(d3.curveCatmullRom.alpha(0.5))
  .x(function(d, i) { return timeX(periods[i]) + timeX.bandwidth() / 2; }).y(function(d) { return timeY(d); });
svg.append("path").attr("d", timeLine(quarterSales)).attr("fill", "none").attr("stroke", "#f8cbad").attr("stroke-width", 2.1).attr("stroke-linecap", "round");

// watermark
var mark = svg.append("g").attr("fill", "#9a9a9a").attr("fill-opacity", 0.28);
mark.append("text").attr("x", 530).attr("y", 585).attr("text-anchor", "middle").attr("font-size", 41).attr("font-weight", "bold").style("font-family", "'DejaVu Sans'").text("\u0645\u0633\u062a\u0642\u0644");
mark.append("text").attr("x", 536).attr("y", 613).attr("text-anchor", "middle").attr("font-size", 18).attr("font-weight", "bold").style("font-family", "'DejaVu Sans'").text("mostaql.com");
</script>
</body>
</html>
